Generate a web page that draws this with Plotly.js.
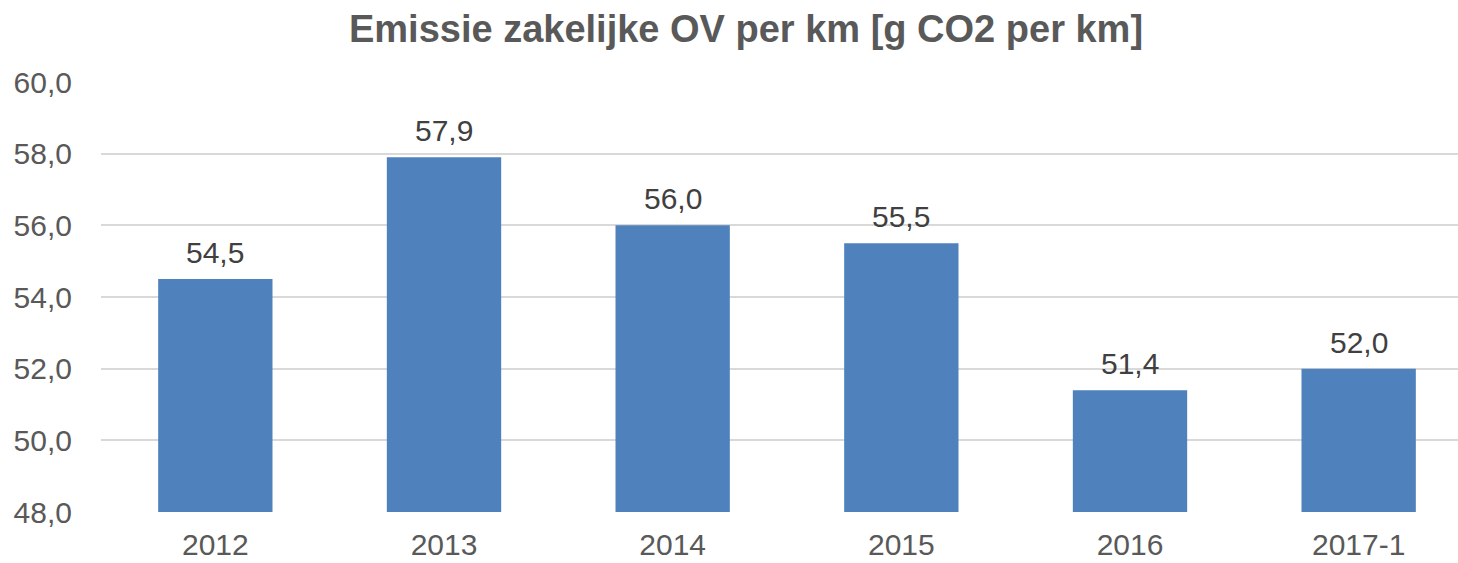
<!DOCTYPE html>
<html>
<head>
<meta charset="utf-8">
<script src="https://cdn.plot.ly/plotly-3.0.1.min.js"></script>
<style>
html,body{margin:0;padding:0;overflow:hidden;background:#fff;}
#chart{width:1475px;height:563px;}
</style>
</head>
<body>
<div id="chart"></div>
<script>
const categories = ["2012", "2013", "2014", "2015", "2016", "2017-1"];
const emissions = [54.5, 57.9, 56.0, 55.5, 51.4, 52.0];
const yTickValues = [48, 50, 52, 54, 56, 58, 60];
const chartTitle = "Emissie zakelijke OV per km [g CO2 per km]";

const FONT = "Liberation Sans, Arial, sans-serif";

const trace = {
  type: "bar",
  x: categories,
  y: emissions,
  marker: {color: "#4F81BD", line: {width: 0}},
  hoverinfo: "x+y"
};

const labelAnnotations = categories.map((c, i) => ({
  x: i,
  y: emissions[i],
  xref: "x",
  yref: "y",
  text: emissions[i].toFixed(1).replace(".", ","),
  showarrow: false,
  yanchor: "bottom",
  xanchor: "center",
  yshift: 8,
  font: {family: FONT, size: 30, color: "#404040"}
}));

const layout = {
  width: 1475,
  height: 563,
  separators: ",.",
  margin: {l: 101, r: 2, t: 82, b: 51},
  paper_bgcolor: "#ffffff",
  plot_bgcolor: "#ffffff",
  bargap: 0.5,
  showlegend: false,
  annotations: labelAnnotations,
  title: {
    text: "<b>" + chartTitle + "</b>",
    font: {family: FONT, size: 38, color: "#595959"},
    x: 746 / 1475, xref: "container", xanchor: "center",
    y: 1 - 29 / 563, yref: "container", yanchor: "middle"
  },
  xaxis: {
    type: "category",
    range: [-0.5, 5.5],
    showgrid: false,
    showline: false,
    zeroline: false,
    ticks: "",
    ticklabelstandoff: 12,
    tickfont: {family: FONT, size: 30, color: "#595959"}
  },
  yaxis: {
    range: [48, 60],
    tickvals: yTickValues,
    tickformat: ".1f",
    showgrid: true,
    gridcolor: "#D9D9D9",
    gridwidth: 2,
    zeroline: false,
    showline: false,
    ticks: "",
    ticklabelstandoff: 28,
    tickfont: {family: FONT, size: 30, color: "#595959"}
  }
};

Plotly.newPlot("chart", [trace], layout, {displayModeBar: false, staticPlot: true});
</script>
</body>
</html>
